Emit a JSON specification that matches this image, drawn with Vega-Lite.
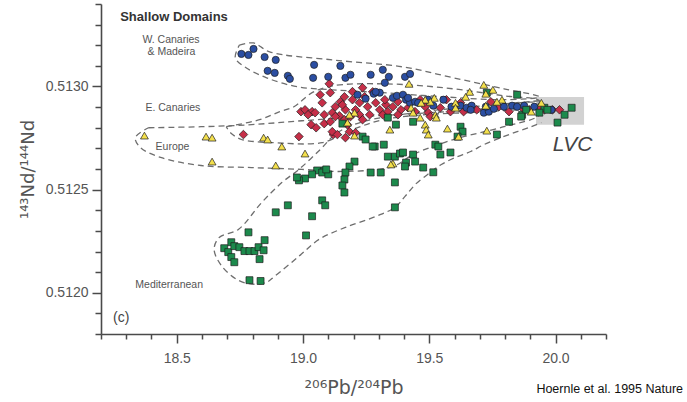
{
  "$schema": "https://vega.github.io/schema/vega-lite/v6.json",
  "width": 505,
  "height": 330,
  "autosize": {"type": "none"},
  "padding": {"left": 101, "top": 4, "right": 81, "bottom": 68},
  "background": "white",
  "config": {
    "view": {"stroke": null},
    "font": "Liberation Sans",
    "axis": {
      "grid": false,
      "domainColor": "#4a4a4a",
      "domainWidth": 1.6,
      "tickColor": "#4a4a4a",
      "tickWidth": 1.5,
      "labelColor": "#555555",
      "labelFontSize": 14,
      "labelFont": "Liberation Sans",
      "labelOverlap": false,
      "labelFlush": false,
      "labelBound": false,
      "titleColor": "#555555",
      "titleFont": "DejaVu Sans",
      "titleFontWeight": "normal"
    }
  },
  "datasets": {
    "pts": [
      {"g":"E","x":18.764,"y":0.512767},{"g":"E","x":18.984,"y":0.512757},{"g":"E","x":18.992,"y":0.512878},{"g":"E","x":19.104,"y":0.513013},{"g":"E","x":19.108,"y":0.51297},{"g":"E","x":19.008,"y":0.512887},{"g":"E","x":19.036,"y":0.512878},{"g":"E","x":19.02,"y":0.512863},{"g":"E","x":19.032,"y":0.512815},{"g":"E","x":19.084,"y":0.51282},{"g":"E","x":19.116,"y":0.512873},{"g":"E","x":19.144,"y":0.512858},{"g":"E","x":19.128,"y":0.512902},{"g":"E","x":19.12,"y":0.512767},{"g":"E","x":19.236,"y":0.512994},{"g":"E","x":19.276,"y":0.512974},{"g":"E","x":19.164,"y":0.51295},{"g":"E","x":19.196,"y":0.512936},{"g":"E","x":19.224,"y":0.512921},{"g":"E","x":19.076,"y":0.512921},{"g":"E","x":19.048,"y":0.512873},{"g":"E","x":19.084,"y":0.512863},{"g":"E","x":19.168,"y":0.512887},{"g":"E","x":19.208,"y":0.512887},{"g":"E","x":19.256,"y":0.512902},{"g":"E","x":19.288,"y":0.512921},{"g":"E","x":19.304,"y":0.512887},{"g":"E","x":19.328,"y":0.512912},{"g":"E","x":19.356,"y":0.512902},{"g":"E","x":19.324,"y":0.512936},{"g":"E","x":19.376,"y":0.512926},{"g":"E","x":19.264,"y":0.512863},{"g":"E","x":19.224,"y":0.512863},{"g":"E","x":19.188,"y":0.512854},{"g":"E","x":19.164,"y":0.512839},{"g":"E","x":19.128,"y":0.512854},{"g":"E","x":19.116,"y":0.512781},{"g":"E","x":19.136,"y":0.512767},{"g":"E","x":19.184,"y":0.512781},{"g":"E","x":19.208,"y":0.512776},{"g":"E","x":19.052,"y":0.5128},{"g":"E","x":19.464,"y":0.512936},{"g":"E","x":19.484,"y":0.512902},{"g":"E","x":19.496,"y":0.512873},{"g":"E","x":19.504,"y":0.512854},{"g":"E","x":19.544,"y":0.512897},{"g":"E","x":19.568,"y":0.512936},{"g":"E","x":19.584,"y":0.512878},{"g":"E","x":19.624,"y":0.512921},{"g":"E","x":19.688,"y":0.512887},{"g":"E","x":19.744,"y":0.512926},{"g":"E","x":19.776,"y":0.512902},{"g":"E","x":19.868,"y":0.512897},{"g":"E","x":19.896,"y":0.512887},{"g":"E","x":19.988,"y":0.512887},{"g":"E","x":20.016,"y":0.512887},{"g":"E","x":19.196,"y":0.512975},{"g":"E","x":19.148,"y":0.512926},{"g":"E","x":19.244,"y":0.51295},{"g":"E","x":19.336,"y":0.512878},{"g":"E","x":19.388,"y":0.512887},{"g":"E","x":19.416,"y":0.512897},{"g":"E","x":19.444,"y":0.512878},{"g":"E","x":19.068,"y":0.51296},{"g":"E","x":19.108,"y":0.512829},{"g":"E","x":19.176,"y":0.512815},{"g":"E","x":19.236,"y":0.512839},{"g":"E","x":19.316,"y":0.512863},{"g":"E","x":19.376,"y":0.512863},{"g":"E","x":19.636,"y":0.512878},{"g":"E","x":19.816,"y":0.512878},{"g":"E","x":19.936,"y":0.512897},{"g":"E","x":19.956,"y":0.512887},{"g":"E","x":19.168,"y":0.512752},{"g":"E","x":19.156,"y":0.512911},
      {"g":"W","x":18.756,"y":0.513158},{"g":"W","x":18.784,"y":0.513153},{"g":"W","x":18.804,"y":0.513182},{"g":"W","x":18.848,"y":0.513143},{"g":"W","x":18.892,"y":0.513129},{"g":"W","x":18.86,"y":0.513076},{"g":"W","x":18.888,"y":0.513066},{"g":"W","x":18.94,"y":0.513052},{"g":"W","x":18.948,"y":0.513037},{"g":"W","x":19.044,"y":0.513105},{"g":"W","x":19.04,"y":0.513042},{"g":"W","x":19.1,"y":0.513047},{"g":"W","x":19.148,"y":0.5131},{"g":"W","x":19.168,"y":0.513042},{"g":"W","x":19.188,"y":0.513057},{"g":"W","x":19.268,"y":0.513057},{"g":"W","x":19.316,"y":0.513081},{"g":"W","x":19.34,"y":0.513047},{"g":"W","x":19.324,"y":0.513018},{"g":"W","x":19.404,"y":0.513047},{"g":"W","x":19.424,"y":0.513061},{"g":"W","x":19.248,"y":0.512941},{"g":"W","x":19.28,"y":0.512965},{"g":"W","x":19.304,"y":0.51297},{"g":"W","x":19.356,"y":0.512945},{"g":"W","x":19.372,"y":0.512955},{"g":"W","x":19.396,"y":0.51296},{"g":"W","x":19.408,"y":0.512936},{"g":"W","x":19.424,"y":0.512921},{"g":"W","x":19.496,"y":0.512936},{"g":"W","x":19.516,"y":0.512907},{"g":"W","x":19.588,"y":0.512902},{"g":"W","x":19.624,"y":0.512907},{"g":"W","x":19.648,"y":0.512897},{"g":"W","x":19.668,"y":0.512907},{"g":"W","x":19.716,"y":0.512873},{"g":"W","x":19.736,"y":0.512878},{"g":"W","x":19.796,"y":0.512902},{"g":"W","x":19.828,"y":0.512907},{"g":"W","x":19.848,"y":0.512902},{"g":"W","x":19.876,"y":0.512907},{"g":"W","x":19.916,"y":0.512902},{"g":"W","x":19.984,"y":0.512887},{"g":"W","x":19.724,"y":0.512902},{"g":"W","x":19.664,"y":0.512887},{"g":"W","x":19.288,"y":0.512974},{"g":"W","x":19.416,"y":0.512945},{"g":"W","x":19.444,"y":0.512926},{"g":"W","x":19.456,"y":0.512921},{"g":"W","x":19.216,"y":0.51296},{"g":"W","x":19.556,"y":0.512936},{"g":"W","x":19.756,"y":0.512892},
      {"g":"M","x":18.688,"y":0.512216},{"g":"M","x":18.716,"y":0.512245},{"g":"M","x":18.704,"y":0.512197},{"g":"M","x":18.728,"y":0.512226},{"g":"M","x":18.748,"y":0.512221},{"g":"M","x":18.768,"y":0.512202},{"g":"M","x":18.788,"y":0.512202},{"g":"M","x":18.808,"y":0.512202},{"g":"M","x":18.824,"y":0.512221},{"g":"M","x":18.844,"y":0.512206},{"g":"M","x":18.848,"y":0.512255},{"g":"M","x":18.784,"y":0.512293},{"g":"M","x":18.716,"y":0.512173},{"g":"M","x":18.728,"y":0.512148},{"g":"M","x":18.828,"y":0.512163},{"g":"M","x":18.788,"y":0.512061},{"g":"M","x":18.832,"y":0.512057},{"g":"M","x":18.892,"y":0.51239},{"g":"M","x":18.94,"y":0.512424},{"g":"M","x":19.236,"y":0.512757},{"g":"M","x":19.248,"y":0.512743},{"g":"M","x":19.284,"y":0.512709},{"g":"M","x":19.32,"y":0.512718},{"g":"M","x":19.204,"y":0.512636},{"g":"M","x":19.184,"y":0.512612},{"g":"M","x":19.168,"y":0.512583},{"g":"M","x":19.164,"y":0.512549},{"g":"M","x":19.156,"y":0.51252},{"g":"M","x":19.084,"y":0.512593},{"g":"M","x":19.056,"y":0.512593},{"g":"M","x":19.036,"y":0.512574},{"g":"M","x":19.008,"y":0.512554},{"g":"M","x":18.984,"y":0.512545},{"g":"M","x":18.976,"y":0.512559},{"g":"M","x":19.076,"y":0.512583},{"g":"M","x":19.1,"y":0.512574},{"g":"M","x":19.092,"y":0.512598},{"g":"M","x":19.268,"y":0.512583},{"g":"M","x":19.308,"y":0.512583},{"g":"M","x":19.364,"y":0.512535},{"g":"M","x":19.336,"y":0.51266},{"g":"M","x":19.364,"y":0.51266},{"g":"M","x":19.384,"y":0.512675},{"g":"M","x":19.364,"y":0.512414},{"g":"M","x":19.076,"y":0.512448},{"g":"M","x":19.088,"y":0.512424},{"g":"M","x":19.036,"y":0.512371},{"g":"M","x":19.012,"y":0.512278},{"g":"M","x":19.336,"y":0.512849},{"g":"M","x":19.368,"y":0.512815},{"g":"M","x":19.436,"y":0.512829},{"g":"M","x":19.276,"y":0.512709},{"g":"M","x":19.396,"y":0.51268},{"g":"M","x":19.436,"y":0.51267},{"g":"M","x":19.444,"y":0.512636},{"g":"M","x":19.408,"y":0.512631},{"g":"M","x":19.476,"y":0.512607},{"g":"M","x":19.156,"y":0.51282},{"g":"M","x":19.624,"y":0.512805},{"g":"M","x":19.632,"y":0.512781},{"g":"M","x":19.612,"y":0.512757},{"g":"M","x":19.768,"y":0.512767},{"g":"M","x":19.816,"y":0.512829},{"g":"M","x":19.728,"y":0.51297},{"g":"M","x":19.848,"y":0.51296},{"g":"M","x":19.868,"y":0.512863},{"g":"M","x":19.884,"y":0.512887},{"g":"M","x":19.956,"y":0.512897},{"g":"M","x":19.968,"y":0.512887},{"g":"M","x":20.008,"y":0.512825},{"g":"M","x":20.036,"y":0.512863},{"g":"M","x":20.064,"y":0.512897},{"g":"M","x":19.936,"y":0.512873},{"g":"M","x":19.864,"y":0.512854},{"g":"M","x":19.524,"y":0.512718},{"g":"M","x":19.536,"y":0.512709},{"g":"M","x":19.544,"y":0.51267},{"g":"M","x":19.584,"y":0.51268},{"g":"M","x":19.164,"y":0.512486},{"g":"M","x":19.516,"y":0.512584},{"g":"M","x":19.404,"y":0.512612},
      {"g":"U","x":18.372,"y":0.512762},{"g":"U","x":18.616,"y":0.512757},{"g":"U","x":18.64,"y":0.512752},{"g":"U","x":18.64,"y":0.512636},{"g":"U","x":18.844,"y":0.512752},{"g":"U","x":18.86,"y":0.512743},{"g":"U","x":18.916,"y":0.512709},{"g":"U","x":18.892,"y":0.512617},{"g":"U","x":19.008,"y":0.512675},{"g":"U","x":19.204,"y":0.512762},{"g":"U","x":19.356,"y":0.512627},{"g":"U","x":19.42,"y":0.513013},{"g":"U","x":19.716,"y":0.513008},{"g":"U","x":19.66,"y":0.512974},{"g":"U","x":19.752,"y":0.512984},{"g":"U","x":19.644,"y":0.51295},{"g":"U","x":19.724,"y":0.512965},{"g":"U","x":19.52,"y":0.512945},{"g":"U","x":19.504,"y":0.512926},{"g":"U","x":19.484,"y":0.512936},{"g":"U","x":19.468,"y":0.512921},{"g":"U","x":19.428,"y":0.512897},{"g":"U","x":19.436,"y":0.512873},{"g":"U","x":19.464,"y":0.512849},{"g":"U","x":19.524,"y":0.512863},{"g":"U","x":19.528,"y":0.512849},{"g":"U","x":19.604,"y":0.512921},{"g":"U","x":19.604,"y":0.512897},{"g":"U","x":19.788,"y":0.512936},{"g":"U","x":19.768,"y":0.512926},{"g":"U","x":19.724,"y":0.512907},{"g":"U","x":19.944,"y":0.512921},{"g":"U","x":19.904,"y":0.512878},{"g":"U","x":19.204,"y":0.512873},{"g":"U","x":19.184,"y":0.512863},{"g":"U","x":19.176,"y":0.512825},{"g":"U","x":19.344,"y":0.512791},{"g":"U","x":19.348,"y":0.512622},{"g":"U","x":19.484,"y":0.512815},{"g":"U","x":19.488,"y":0.512791},{"g":"U","x":19.496,"y":0.512767},{"g":"U","x":19.572,"y":0.512796},{"g":"U","x":19.616,"y":0.512757},{"g":"U","x":19.728,"y":0.512786}
    ],
    "env": [
      {"g":"W","i":0,"x":18.748,"y":0.513201},{"g":"W","i":1,"x":18.804,"y":0.513211},{"g":"W","i":2,"x":18.868,"y":0.513168},{"g":"W","i":3,"x":19.116,"y":0.513129},{"g":"W","i":4,"x":19.396,"y":0.513095},{"g":"W","i":5,"x":19.596,"y":0.513042},{"g":"W","i":6,"x":19.796,"y":0.512989},{"g":"W","i":7,"x":19.936,"y":0.51295},{"g":"W","i":8,"x":19.796,"y":0.512936},{"g":"W","i":9,"x":19.556,"y":0.51295},{"g":"W","i":10,"x":19.316,"y":0.51297},{"g":"W","i":11,"x":19.116,"y":0.512984},{"g":"W","i":12,"x":18.976,"y":0.512999},{"g":"W","i":13,"x":18.856,"y":0.513042},{"g":"W","i":14,"x":18.776,"y":0.51309},{"g":"W","i":15,"x":18.732,"y":0.513139},{"g":"W","i":16,"x":18.748,"y":0.513201},
      {"g":"E","i":0,"x":18.696,"y":0.512805},{"g":"E","i":1,"x":18.828,"y":0.512839},{"g":"E","i":2,"x":18.908,"y":0.512878},{"g":"E","i":3,"x":18.964,"y":0.512902},{"g":"E","i":4,"x":19.036,"y":0.51297},{"g":"E","i":5,"x":19.116,"y":0.513003},{"g":"E","i":6,"x":19.316,"y":0.513013},{"g":"E","i":7,"x":19.556,"y":0.512994},{"g":"E","i":8,"x":19.796,"y":0.512955},{"g":"E","i":9,"x":19.936,"y":0.512931},{"g":"E","i":10,"x":19.936,"y":0.512907},{"g":"E","i":11,"x":19.716,"y":0.512878},{"g":"E","i":12,"x":19.476,"y":0.512863},{"g":"E","i":13,"x":19.316,"y":0.512839},{"g":"E","i":14,"x":19.196,"y":0.512791},{"g":"E","i":15,"x":19.076,"y":0.512728},{"g":"E","i":16,"x":18.876,"y":0.512728},{"g":"E","i":17,"x":18.808,"y":0.512733},{"g":"E","i":18,"x":18.756,"y":0.512743},{"g":"E","i":19,"x":18.716,"y":0.512772},{"g":"E","i":20,"x":18.696,"y":0.512805},
      {"g":"U","i":0,"x":18.388,"y":0.5128},{"g":"U","i":1,"x":18.596,"y":0.512805},{"g":"U","i":2,"x":18.796,"y":0.512815},{"g":"U","i":3,"x":18.996,"y":0.512834},{"g":"U","i":4,"x":19.236,"y":0.512854},{"g":"U","i":5,"x":19.436,"y":0.512868},{"g":"U","i":6,"x":19.676,"y":0.512887},{"g":"U","i":7,"x":19.936,"y":0.512916},{"g":"U","i":8,"x":19.936,"y":0.512863},{"g":"U","i":9,"x":19.796,"y":0.512805},{"g":"U","i":10,"x":19.596,"y":0.512743},{"g":"U","i":11,"x":19.436,"y":0.51267},{"g":"U","i":12,"x":19.356,"y":0.512612},{"g":"U","i":13,"x":19.156,"y":0.512588},{"g":"U","i":14,"x":18.996,"y":0.512598},{"g":"U","i":15,"x":18.796,"y":0.512607},{"g":"U","i":16,"x":18.596,"y":0.512617},{"g":"U","i":17,"x":18.436,"y":0.512656},{"g":"U","i":18,"x":18.356,"y":0.512704},{"g":"U","i":19,"x":18.336,"y":0.512752},{"g":"U","i":20,"x":18.388,"y":0.5128},
      {"g":"M","i":0,"x":19.936,"y":0.512931},{"g":"M","i":1,"x":19.716,"y":0.512907},{"g":"M","i":2,"x":19.476,"y":0.512878},{"g":"M","i":3,"x":19.236,"y":0.512829},{"g":"M","i":4,"x":19.136,"y":0.512776},{"g":"M","i":5,"x":19.068,"y":0.512694},{"g":"M","i":6,"x":18.984,"y":0.512598},{"g":"M","i":7,"x":18.916,"y":0.512534},{"g":"M","i":8,"x":18.836,"y":0.512437},{"g":"M","i":9,"x":18.744,"y":0.512307},{"g":"M","i":10,"x":18.668,"y":0.512268},{"g":"M","i":11,"x":18.648,"y":0.51221},{"g":"M","i":12,"x":18.676,"y":0.512133},{"g":"M","i":13,"x":18.736,"y":0.512066},{"g":"M","i":14,"x":18.796,"y":0.512042},{"g":"M","i":15,"x":18.856,"y":0.512051},{"g":"M","i":16,"x":18.888,"y":0.51208},{"g":"M","i":17,"x":18.984,"y":0.512177},{"g":"M","i":18,"x":19.064,"y":0.512259},{"g":"M","i":19,"x":19.168,"y":0.512317},{"g":"M","i":20,"x":19.288,"y":0.51237},{"g":"M","i":21,"x":19.364,"y":0.512414},{"g":"M","i":22,"x":19.404,"y":0.512467},{"g":"M","i":23,"x":19.448,"y":0.512529},{"g":"M","i":24,"x":19.504,"y":0.512583},{"g":"M","i":25,"x":19.548,"y":0.512622},{"g":"M","i":26,"x":19.604,"y":0.512656},{"g":"M","i":27,"x":19.664,"y":0.512685},{"g":"M","i":28,"x":19.716,"y":0.512718},{"g":"M","i":29,"x":19.784,"y":0.512752},{"g":"M","i":30,"x":19.848,"y":0.512781},{"g":"M","i":31,"x":19.904,"y":0.512805},{"g":"M","i":32,"x":19.944,"y":0.512825}
    ]
  },
  "encoding": {
    "x": {
      "field": "x", "type": "quantitative",
      "scale": {"domain": [18.2, 20.2], "zero": false, "nice": false},
      "axis": {
        "title": "²⁰⁶Pb/²⁰⁴Pb",
        "titleFontSize": 19,
        "titleY": 59,
        "titleBaseline": "alphabetic",
        "values": [18.2,18.3,18.4,18.5,18.6,18.7,18.8,18.9,19.0,19.1,19.2,19.3,19.4,19.5,19.6,19.7,19.8,19.9,20.0,20.1,20.2],
        "labelExpr": "abs(datum.value*2 - round(datum.value*2)) < 0.01 ? format(datum.value, '.1f') : ''",
        "tickSize": {"condition": {"test": "abs(datum.value*2 - round(datum.value*2)) < 0.01", "value": 9}, "value": 5},
        "labelPadding": 8
      }
    },
    "y": {
      "field": "y", "type": "quantitative",
      "scale": {"domain": [0.5118, 0.5134], "zero": false, "nice": false},
      "axis": {
        "title": "¹⁴³Nd/¹⁴⁴Nd",
        "titleFontSize": 18,
        "titleX": -68,
        "titleY": 165,
        "titleAngle": -90,
        "titleBaseline": "alphabetic",
        "values": [0.5118,0.5119,0.512,0.5121,0.5122,0.5123,0.5124,0.5125,0.5126,0.5127,0.5128,0.5129,0.513,0.5131,0.5132,0.5133,0.5134],
        "labelExpr": "abs(datum.value*2000 - round(datum.value*2000)) < 0.01 ? format(datum.value, '.4f') : ''",
        "tickSize": {"condition": {"test": "abs(datum.value*2000 - round(datum.value*2000)) < 0.01", "value": 9}, "value": 6},
        "labelPadding": 4
      }
    }
  },
  "layer": [
    {
      "data": {"values": [{"x": 19.923, "x2": 20.113, "y": 0.512949, "y2": 0.512815}]},
      "mark": {"type": "rect", "fill": "#cdcdcd", "opacity": 0.9},
      "encoding": {"x2": {"field": "x2"}, "y2": {"field": "y2"}}
    },
    {
      "data": {"name": "env"},
      "mark": {"type": "line", "interpolate": "catmull-rom", "strokeDash": [6, 4], "color": "#6e6e6e", "strokeWidth": 1.3},
      "encoding": {
        "detail": {"field": "g"},
        "order": {"field": "i", "type": "quantitative"}
      }
    },
    {
      "data": {"name": "pts"},
      "mark": {"type": "point", "filled": true, "stroke": "#1e1e1e", "strokeWidth": 0.7, "opacity": 1},
      "encoding": {
        "color": {"field": "g", "type": "nominal", "legend": null,
          "scale": {"domain": ["W", "E", "U", "M"], "range": ["#2b4ea2", "#c62f48", "#f3df4c", "#1c8a4c"]}},
        "shape": {"field": "g", "type": "nominal", "legend": null,
          "scale": {"domain": ["W", "E", "U", "M"], "range": ["circle", "diamond", "triangle-up", "square"]}},
        "size": {"field": "g", "type": "nominal", "legend": null,
          "scale": {"type": "ordinal", "domain": ["W", "E", "U", "M"], "range": [52, 74, 62, 48]}}
      }
    },
    {
      "data": {"values": [
        {"t": "W. Canaries", "x": 18.364, "y": 0.513211},
        {"t": "& Madeira", "x": 18.384, "y": 0.513153},
        {"t": "E. Canaries", "x": 18.376, "y": 0.512883},
        {"t": "Europe", "x": 18.416, "y": 0.512694},
        {"t": "Mediterranean", "x": 18.336, "y": 0.512024}
      ]},
      "mark": {"type": "text", "align": "left", "baseline": "alphabetic", "fontSize": 10.5, "color": "#555555", "font": "Liberation Sans"},
      "encoding": {"text": {"field": "t"}}
    },
    {
      "data": {"values": [{"t": "Shallow   Domains", "x": 18.276, "y": 0.513317}]},
      "mark": {"type": "text", "align": "left", "baseline": "alphabetic", "fontSize": 13, "fontWeight": "bold", "color": "#333333", "font": "Liberation Sans"},
      "encoding": {"text": {"field": "t"}}
    },
    {
      "data": {"values": [{"t": "(c)", "x": 18.248, "y": 0.51186}]},
      "mark": {"type": "text", "align": "left", "baseline": "alphabetic", "fontSize": 14, "color": "#444444", "font": "Liberation Sans"},
      "encoding": {"text": {"field": "t"}}
    },
    {
      "data": {"values": [{"t": "LVC", "x": 20.068, "y": 0.512685}]},
      "mark": {"type": "text", "align": "center", "baseline": "alphabetic", "fontSize": 21, "fontStyle": "italic", "color": "#444444", "font": "Liberation Sans"},
      "encoding": {"text": {"field": "t"}}
    },
    {
      "data": {"values": [{"t": "Hoernle et al. 1995 Nature", "x": 20.505, "y": 0.511516}]},
      "mark": {"type": "text", "align": "right", "baseline": "alphabetic", "fontSize": 12.5, "color": "#111111", "font": "Liberation Sans"},
      "encoding": {"text": {"field": "t"}}
    }
  ]
}
